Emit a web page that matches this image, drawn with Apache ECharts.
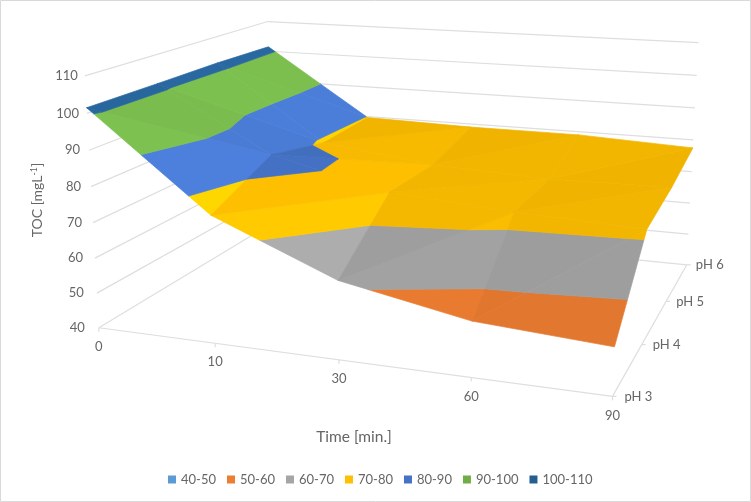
<!DOCTYPE html>
<html><head><meta charset="utf-8">
<script src="https://cdn.jsdelivr.net/npm/echarts@6/dist/echarts.min.js"></script>
<style>html,body{margin:0;padding:0;background:#fff}#c{width:751px;height:502px}</style></head>
<body><div id="c"></div>
<script>
// ---- data -----
const timeLabels = ['0','10','30','60','90'];
const phLabels = ['pH 3','pH 4','pH 5','pH 6'];
const tocTicks = [40,50,60,70,80,90,100,110];
const tocPH3 = [101.5,75.4,61.5,54.9,52.7];
const tocPH4 = [101.6,83.4,75.5,73.1,71.8];
const tocPH5 = [101.8,79.0,74.9,73.5,74.0];
const tocPH6 = [101.5,79.7,79.0,79.0,77.5];
const bandNames = ['40-50','50-60','60-70','70-80','80-90','90-100','100-110'];
const bandColors = ['#5B9BD5','#ED7D31','#A5A5A5','#FFC000','#4472C4','#70AD47','#255E91'];
const surface = [tocPH3,tocPH4,tocPH5,tocPH6];

// ---- camera: a 3D box projection calibrated on the box's axis ticks -----
const zMin=40, zMax=110;
const anchors = [
 [0,0,40,99,327.5],[.25,0,40,215.5,343],[.5,0,40,339,361],[.75,0,40,471,378],[1,0,40,611,396],
 [1,1/3,40,643,344],[1,2/3,40,667,302],[1,1,40,686,265],
 [0,0,50,96.5,293],[0,0,60,95,258],[0,0,70,93,223],[0,0,80,91,186.5],[0,0,90,89,150],[0,0,100,87,113],[0,0,110,85,76],
 [1,1,50,688,233],[1,1,60,690,203],[1,1,70,692,172],[1,1,80,693.5,140],[1,1,90,695,108],[1,1,100,697,75],[1,1,110,698,43],
 [0,1,110,267,21],[0,1,100,269,52]
];
function fitCamera(){
  const n=11, A=Array.from({length:n},()=>new Array(n+1).fill(0));
  const S=500;
  function add(row,b){for(let i=0;i<n;i++){for(let j=0;j<n;j++)A[i][j]+=row[i]*row[j];A[i][n]+=row[i]*b;}}
  anchors.forEach(a=>{
    const u=a[0],v=a[1],w=(a[2]-zMin)/(zMax-zMin),x=a[3]/S,y=a[4]/S;
    add([u,v,w,1,0,0,0,0,-x*u,-x*v,-x*w],x);
    add([0,0,0,0,u,v,w,1,-y*u,-y*v,-y*w],y);
  });
  for(let c=0;c<n;c++){
    let p=c;for(let r=c+1;r<n;r++)if(Math.abs(A[r][c])>Math.abs(A[p][c]))p=r;
    [A[c],A[p]]=[A[p],A[c]];
    for(let r=0;r<n;r++){if(r===c)continue;const f=A[r][c]/A[c][c];for(let k=c;k<=n;k++)A[r][k]-=f*A[c][k];}
  }
  const s=A.map((r,i)=>r[n]/r[i]);
  return {s,S};
}
const cam=fitCamera();
function project(u,v,z){
  const w=(z-zMin)/(zMax-zMin),p=cam.s;
  const d=p[8]*u+p[9]*v+p[10]*w+1;
  return [cam.S*(p[0]*u+p[1]*v+p[2]*w+p[3])/d, cam.S*(p[4]*u+p[5]*v+p[6]*w+p[7])/d];
}

// ---- surface triangles, cut into value bands -----
function clip(poly,limit,keepAbove){
  const out=[];
  for(let i=0;i<poly.length;i++){
    const a=poly[i],b=poly[(i+1)%poly.length];
    const ia=keepAbove?a[2]>=limit:a[2]<=limit, ib=keepAbove?b[2]>=limit:b[2]<=limit;
    if(ia)out.push(a);
    if(ia!==ib){const t=(limit-a[2])/(b[2]-a[2]);out.push([a[0]+t*(b[0]-a[0]),a[1]+t*(b[1]-a[1]),limit]);}
  }
  return out;
}
const nu=timeLabels.length-1,nv=phLabels.length-1;
const tris=[];
for(let j=0;j<nv;j++)for(let i=0;i<nu;i++){
  const P=(a,b)=>[a/nu,b/nv,surface[b][a]];
  tris.push({pts:[P(i,j),P(i+1,j),P(i+1,j+1)],slope:(surface[j][i+1]-surface[j][i])*nu});
  tris.push({pts:[P(i,j),P(i,j+1),P(i+1,j+1)],slope:(surface[j+1][i+1]-surface[j+1][i])*nu});
}
const lightSteps=[[0,.94],[30,.99],[55,1.05],[73,1.09],[104,1.12]];
function shade(hex,slope){
  const s=Math.max(0,Math.min(104,-slope));
  let f=.94;
  for(let k=0;k<lightSteps.length-1;k++){
    const a=lightSteps[k],b=lightSteps[k+1];
    if(s>=a[0]&&s<=b[0]){f=a[1]+(b[1]-a[1])*(s-a[0])/(b[0]-a[0]);break;}
  }
  const n=parseInt(hex.slice(1),16);
  const c=[n>>16,(n>>8)&255,n&255].map(x=>Math.min(255,Math.round(x*f)));
  return 'rgb('+c.join(',')+')';
}
const bandPolys=bandNames.map((_,b)=>{
  const lo=zMin+b*10,hi=lo+10,res=[];
  tris.forEach(t=>{
    let p=clip(t.pts,lo,true); if(p.length)p=clip(p,hi,false);
    if(p.length>=3)res.push({poly:p,fill:shade(bandColors[b],t.slope)});
  });
  return res;
});

const textColor='#666666', lineColor='#DEDEDE', font='Lato';
function label(x,y,text,align,size){
  return {type:'text',style:{x,y,text,fill:textColor,font:(size||13)+'px '+font,textAlign:align,textVerticalAlign:'middle'}};
}
function seg(a,b){return {type:'line',shape:{x1:a[0],y1:a[1],x2:b[0],y2:b[1]},style:{stroke:lineColor,lineWidth:1.2}};}

function renderFrame(){
  const ch=[];
  ch.push({type:'rect',shape:{x:.5,y:.5,width:750,height:501},style:{fill:'none',stroke:'#D9D9D9',lineWidth:1}});
  tocTicks.forEach(z=>{
    const a=project(0,0,z),b=project(0,1,z),c=project(1,1,z);
    ch.push(seg(a,b),seg(b,c));
    ch.push(label(a[0]-14+(z-zMin)/10,a[1],String(z),'right'));
  });
  ch.push(seg(project(0,0,zMin),project(1,0,zMin)));
  ch.push(seg(project(1,0,zMin),project(1,1,zMin)));
  timeLabels.forEach((t,i)=>{
    const p=project(i/nu,0,zMin);
    ch.push(seg(p,[p[0],p[1]+4]));
    ch.push(label(p[0],p[1]+19,t,'center'));
  });
  phLabels.forEach((t,j)=>{
    const p=project(1,j/nv,zMin);
    ch.push(seg(p,[p[0]+4,p[1]]));
    ch.push(label(p[0]+12-j,p[1],t,'left'));
  });
  ch.push(label(354,437,'Time [min.]','center',15.5));
  ch.push({type:'text',x:37,y:200,rotation:Math.PI/2,style:{
    text:'{a|TOC [mgL}{s|-1}{a|]}',align:'center',verticalAlign:'middle',
    rich:{a:{fill:textColor,font:'14px '+font},s:{fill:textColor,font:'9px '+font,verticalAlign:'top',padding:[0,0,5,0]}}
  }});
  return {type:'group',children:ch};
}

const series=[{
  type:'custom',name:'frame',coordinateSystem:'none',silent:true,data:[0],z:1,renderItem:renderFrame
}];
bandNames.forEach((name,b)=>{
  series.push({
    type:'custom',name,coordinateSystem:'none',silent:true,z:2,
    itemStyle:{color:bandColors[b]},
    data:bandPolys[b].map((_,i)=>i),
    renderItem:(params)=>{
      const it=bandPolys[b][params.dataIndex];
      return {type:'polygon',shape:{points:it.poly.map(q=>project(q[0],q[1],q[2]))},
        style:{fill:it.fill,stroke:it.fill,lineWidth:.7}};
    }
  });
});
const chart=echarts.init(document.getElementById('c'),null,{renderer:'canvas'});
chart.setOption({
  animation:false,backgroundColor:'#fff',tooltip:{show:false},
  legend:{data:bandNames,left:168,top:473,icon:'rect',itemWidth:8,itemHeight:8,itemGap:11,
    selectedMode:false,padding:0,textStyle:{fontSize:13,color:textColor,fontFamily:font}},
  series
});
</script></body></html>
